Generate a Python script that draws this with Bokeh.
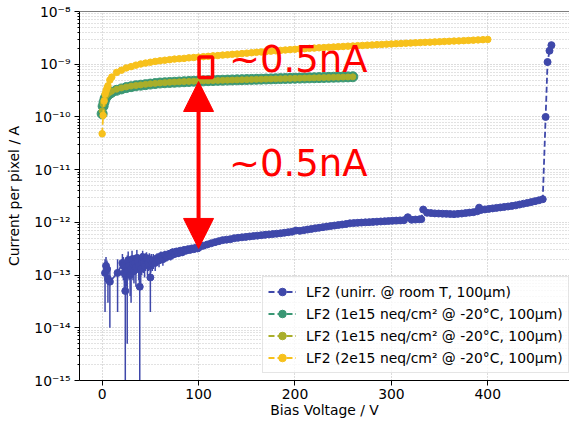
from bokeh.plotting import figure
from bokeh.models import (Range1d, FixedTicker, CustomJSTickFormatter, Legend, LegendItem,
                          Label, Arrow, NormalHead, Span, BoxAnnotation, ColumnDataSource)
from bokeh.embed import file_html
from bokeh.resources import INLINE

# ---------------- data ----------------
x_ticks = [0, 100, 200, 300, 400]
y_exponents = [-15, -14, -13, -12, -11, -10, -9, -8]

series_labels = [
    "LF2 (unirr. @ room T, 100\u03bcm)",
    "LF2 (1e15 neq/cm\u00b2 @ -20\u00b0C, 100\u03bcm)",
    "LF2 (1e15 neq/cm\u00b2 @ -20\u00b0C, 100\u03bcm)",
    "LF2 (2e15 neq/cm\u00b2 @ -20\u00b0C, 100\u03bcm)",
]

# unirradiated, room T  (bias V, current pA, error pA)
blue_v = [3, 4, 5, 6, 8, 16, 21, 22, 23, 24, 25, 26, 27, 28, 29, 30, 31, 32, 33, 34, 35, 36, 37, 38, 39,
          40, 41, 42, 43, 44, 45, 46, 47, 48, 49, 50, 51, 52,
          53, 55, 57, 59, 61, 63, 65, 67, 69, 71, 73, 75, 77, 79, 81, 83, 85, 87, 89, 91, 93, 95, 97, 99,
          101, 105, 109, 113, 117, 121, 125, 129, 133, 137,
          141, 145, 149, 153, 157, 161, 165, 169, 173, 177,
          181, 185, 189, 193, 197, 201, 205, 209, 213, 217,
          221, 225, 229, 233, 237, 241, 245, 249, 253, 257,
          261, 265, 269, 273, 277, 281, 285, 289, 293, 297,
          301, 305, 309, 313, 317, 321, 325, 329, 331, 333,
          337, 341, 345, 349, 353, 357, 361, 365, 369, 373,
          377, 381, 385, 389, 391, 393, 397, 401, 405, 409,
          413, 417, 421, 425, 429, 433, 437, 441, 445, 449,
          453, 457, 460, 462, 464, 466]
blue_i_pA = [0.11, 0.15, 0.13, 0.085, 0.075, 0.11, 0.17, 0.15, 0.11, 0.05, 0.14, 0.12, 0.19, 0.15, 0.10,
             0.13, 0.20, 0.16, 0.12, 0.17, 0.14, 0.21, 0.18, 0.15, 0.06, 0.13, 0.18, 0.22, 0.17, 0.15,
             0.19, 0.21, 0.16, 0.17, 0.20, 0.09, 0.19, 0.17,
             0.19, 0.17, 0.21, 0.19, 0.23, 0.20, 0.24, 0.22, 0.25, 0.23, 0.27, 0.25, 0.28, 0.26, 0.29,
             0.27, 0.30, 0.29, 0.31, 0.30, 0.32, 0.31, 0.33, 0.32,
             0.34, 0.36, 0.38, 0.40, 0.42, 0.44, 0.46, 0.47, 0.48, 0.50,
             0.51, 0.52, 0.53, 0.54, 0.55, 0.56, 0.57, 0.58, 0.59, 0.60,
             0.61, 0.62, 0.635, 0.65, 0.665, 0.70, 0.69, 0.71, 0.73, 0.75,
             0.77, 0.79, 0.81, 0.83, 0.85, 0.87, 0.89, 0.91, 0.93, 0.96,
             0.97, 0.98, 0.99, 1.00, 1.01, 1.02, 1.03, 1.04, 1.05, 1.06,
             1.07, 1.08, 1.09, 1.10, 1.25, 1.12, 1.13, 1.14, 1.15, 1.75,
             1.52, 1.50, 1.48, 1.47, 1.46, 1.45, 1.44, 1.43, 1.45, 1.47,
             1.50, 1.53, 1.56, 1.62, 1.90, 1.72, 1.76, 1.80, 1.84, 1.88,
             1.92, 1.96, 2.00, 2.05, 2.10, 2.18, 2.26, 2.34, 2.42, 2.52,
             2.62, 2.75, 100.0, 1100.0, 1800.0, 2300.0]
blue_err_pA = [0.09, 0.07, 0.06, 0.055, 0.065, 0.09, 0.08, 0.07, 0.06, 0.07, 0.08, 0.115, 0.09, 0.07,
               0.06, 0.10, 0.09, 0.08, 0.05, 0.07, 0.08, 0.09, 0.07, 0.07, 0.07, 0.06, 0.08, 0.07, 0.06,
               0.06, 0.07, 0.06, 0.06, 0.05, 0.06, 0.07, 0.06, 0.05,
               0.06, 0.05, 0.05, 0.05, 0.05, 0.05, 0.05, 0.04, 0.05, 0.04, 0.05, 0.04, 0.04, 0.04, 0.04,
               0.04, 0.04, 0.03, 0.04, 0.03, 0.03, 0.03, 0.03, 0.03,
               0.03, 0.03, 0.03, 0.03, 0.03, 0.03, 0.03, 0.03, 0.03, 0.03,
               0.03, 0.03, 0.03, 0.03, 0.03, 0.03, 0.03, 0.03, 0.03, 0.03,
               0.03, 0.03, 0.03, 0.03, 0.03, 0.04, 0.03, 0.03, 0.03, 0.03,
               0.03, 0.03, 0.03, 0.03, 0.03, 0.03, 0.03, 0.03, 0.03, 0.04,
               0.03, 0.03, 0.03, 0.03, 0.03, 0.03, 0.03, 0.03, 0.03, 0.03,
               0.03, 0.03, 0.03, 0.03, 0.05, 0.03, 0.03, 0.03, 0.03, 0.06,
               0.04, 0.04, 0.04, 0.04, 0.04, 0.04, 0.04, 0.04, 0.04, 0.04,
               0.04, 0.04, 0.04, 0.04, 0.06, 0.04, 0.04, 0.04, 0.04, 0.04,
               0.04, 0.04, 0.04, 0.04, 0.04, 0.04, 0.04, 0.04, 0.04, 0.04,
               0.04, 0.04, 1.0, 10.0, 10.0, 10.0]

# 1e15 neq/cm2 irradiated, -20C (bias V, current nA)
irr_v = [0, 1, 2, 3, 4, 5, 6, 8, 10, 15, 20, 25, 30, 35, 40, 45, 50, 55, 60, 65, 70, 75, 80, 85, 90, 95,
         100, 105, 110, 115, 120, 125, 130, 135, 140, 145, 150, 155, 160, 165, 170, 175, 180, 185, 190,
         195, 200, 205, 210, 215, 220, 225, 230, 235, 240, 245, 250, 255, 260]
green_i_nA = [0.115, 0.16, 0.19, 0.22, 0.24, 0.255, 0.265, 0.28, 0.295,
              0.32, 0.34, 0.36, 0.375, 0.39, 0.40, 0.41, 0.42, 0.43, 0.44, 0.445, 0.45, 0.455, 0.46,
              0.465, 0.47, 0.475, 0.48,
              0.483, 0.487, 0.49, 0.494, 0.497, 0.50, 0.503, 0.506, 0.509, 0.512, 0.515, 0.518, 0.521,
              0.524, 0.527, 0.53, 0.533, 0.536, 0.539, 0.542, 0.545, 0.548, 0.551, 0.554, 0.557, 0.56,
              0.563, 0.566, 0.569, 0.572, 0.575, 0.578]
olive_i_nA = [0.13, 0.175, 0.205, 0.235, 0.255, 0.27, 0.28, 0.295, 0.31,
              0.335, 0.355, 0.37, 0.385, 0.395, 0.405, 0.415, 0.425, 0.433, 0.44, 0.447, 0.453, 0.458,
              0.463, 0.468, 0.472, 0.476, 0.48,
              0.483, 0.486, 0.489, 0.492, 0.495, 0.498, 0.501, 0.504, 0.507, 0.51, 0.513, 0.516, 0.519,
              0.522, 0.525, 0.528, 0.531, 0.534, 0.537, 0.54, 0.543, 0.546, 0.549, 0.552, 0.555, 0.558,
              0.561, 0.564, 0.567, 0.57, 0.573, 0.576]

# 2e15 neq/cm2 irradiated, -20C (bias V, current nA)
yel_v = [0, 1, 2, 3, 4, 5, 6, 8, 10, 15, 20, 25, 30, 35, 40, 45, 50, 55, 60, 65, 70, 75, 80, 85, 90, 95,
         100, 105, 110, 115, 120, 125, 130, 135, 140, 145, 150, 155, 160, 165, 170, 175, 180, 185, 190,
         195, 200, 205, 210, 215, 220, 225, 230, 235, 240, 245, 250, 255, 260, 265, 270, 275, 280, 285,
         290, 295, 300, 305, 310, 315, 320, 325, 330, 335, 340, 345, 350, 355, 360, 365, 370, 375, 380,
         385, 390, 395, 400]
yel_i_nA = [0.048, 0.107, 0.2, 0.27, 0.31, 0.35, 0.39, 0.5, 0.57,
            0.7, 0.77, 0.85, 0.9, 0.96, 1.01, 1.05, 1.09, 1.13, 1.16, 1.19, 1.22, 1.25, 1.27, 1.29, 1.32,
            1.34, 1.36,
            1.39, 1.41, 1.44, 1.46, 1.49, 1.51, 1.54, 1.56, 1.59, 1.62, 1.65, 1.68, 1.71, 1.74, 1.77, 1.80,
            1.83, 1.86, 1.89, 1.92,
            1.95, 1.97, 2.00, 2.02, 2.05, 2.07, 2.10, 2.12, 2.15, 2.17, 2.20, 2.22, 2.25, 2.27, 2.30, 2.32,
            2.35, 2.37, 2.40, 2.42,
            2.45, 2.47, 2.50, 2.52, 2.55, 2.57, 2.60, 2.62, 2.65, 2.67, 2.70, 2.72, 2.75, 2.77, 2.80, 2.83,
            2.86, 2.89, 2.92, 2.95]

# annotation anchors (V, A)
ann_arrow_x = 100
ann_arrow_top = 4.7e-10
ann_arrow_bottom = 3.2e-13
ann_box = dict(left=100.5, right=114.5, top=1.37e-9, bottom=5.6e-10)
ann_text = "~0.5nA"
ann_text_x = 131.5
ann_text_y_upper = 6.58e-10
ann_text_y_lower = 7.18e-12

BLUE = "#3f48aa"
GREEN = "#3a9774"
OLIVE = "#a9ae2a"
YELLOW = "#f7c11c"
RED = "#ff0000"
FONT = "DejaVu Sans"
FS = "13.9px"

X_START, X_END = -23.5, 484.75
Y_START, Y_END = 1e-15, 1e-8

# ---------------- figure ----------------
p = figure(width=569, height=421, y_axis_type="log",
           x_range=Range1d(X_START, X_END), y_range=Range1d(Y_START, Y_END),
           output_backend="svg", toolbar_location=None,
           min_border_left=79, min_border_right=0, min_border_top=11, min_border_bottom=41)
p.outline_line_color = None
p.background_fill_color = "white"
p.border_fill_color = "white"

# axes
y_decades = [10.0 ** e for e in y_exponents]
p.xaxis.ticker = FixedTicker(ticks=x_ticks)
y_minor = [m * d for d in y_decades[:-1] for m in (2, 3, 4, 5, 6, 7, 8, 9)]
yticker = FixedTicker(ticks=y_decades, minor_ticks=y_minor)
p.yaxis.ticker = yticker
p.yaxis.formatter = CustomJSTickFormatter(code="""
const e = Math.round(Math.log10(tick));
const sup = {"-":"\u207b","0":"\u2070","1":"\u00b9","2":"\u00b2","3":"\u00b3","4":"\u2074",
             "5":"\u2075","6":"\u2076","7":"\u2077","8":"\u2078","9":"\u2079"};
return "10" + String(e).split("").map(c => sup[c]).join("");
""")
for ax in (p.xaxis, p.yaxis):
    ax.axis_line_color = "black"
    ax.axis_line_width = 1
    ax.major_tick_line_color = "black"
    ax.major_tick_in = 0
    ax.major_tick_out = 5
    ax.minor_tick_in = 0
    ax.minor_tick_out = 2
    ax.minor_tick_line_color = "black"
    ax.major_label_text_font = FONT
    ax.major_label_text_font_size = FS
    ax.major_label_text_color = "black"
    ax.axis_label_text_font = FONT
    ax.axis_label_text_font_size = FS
    ax.axis_label_text_font_style = "normal"
    ax.axis_label_text_color = "black"
p.xaxis.minor_tick_line_color = None
p.xaxis.major_label_standoff = 3
p.xaxis.axis_label = "Bias Voltage / V"
p.xaxis.axis_label_standoff = 0
p.yaxis.major_label_standoff = 4
p.yaxis.axis_label = "Current per pixel / A"
p.yaxis.axis_label_standoff = 9

# grid
p.xgrid.grid_line_color = "#b8b8b8"
p.xgrid.grid_line_dash = "1 2"
p.ygrid.ticker = yticker
p.ygrid.grid_line_color = "#b8b8b8"
p.ygrid.grid_line_dash = "1 2"
p.ygrid.minor_grid_line_color = "#c4c4c4"
p.ygrid.minor_grid_line_dash = "1 2"

# top spine
p.add_layout(Span(location=Y_END, dimension="width", line_color="black", line_width=1))

# ---------------- series ----------------
blue_i = [v * 1e-12 for v in blue_i_pA]
blue_lo = [max((a - b) * 1e-12, 1e-18) for a, b in zip(blue_i_pA, blue_err_pA)]
blue_hi = [(a + b) * 1e-12 for a, b in zip(blue_i_pA, blue_err_pA)]
bsrc = ColumnDataSource(dict(v=blue_v, i=blue_i, lo=blue_lo, hi=blue_hi))

legend_items = []

p.segment(x0="v", y0="lo", x1="v", y1="hi", source=bsrc, line_color=BLUE, line_width=1.5)
bl = p.line("v", "i", source=bsrc, line_color=BLUE, line_width=1.8, line_dash="6 3")
bs = p.scatter("v", "i", source=bsrc, size=7, fill_color=BLUE, line_color=BLUE)
legend_items.append(LegendItem(label=series_labels[0], renderers=[bl, bs]))

for vals, xs, col, msize, lab in ((green_i_nA, irr_v, GREEN, 10, series_labels[1]),
                                  (olive_i_nA, irr_v, OLIVE, 6, series_labels[2]),
                                  (yel_i_nA, yel_v, YELLOW, 6.5, series_labels[3])):
    ys = [v * 1e-9 for v in vals]
    src = ColumnDataSource(dict(v=xs, i=ys))
    ln = p.line("v", "i", source=src, line_color=col, line_width=1.8, line_dash="6 3")
    sc = p.scatter("v", "i", source=src, size=msize, fill_color=col, line_color=col)
    legend_items.append(LegendItem(label=lab, renderers=[ln, sc]))

legend = Legend(items=legend_items, location=(183, 7),
                label_text_font=FONT, label_text_font_size=FS, label_text_color="black",
                glyph_width=28, glyph_height=19, label_height=19, label_standoff=10,
                spacing=3, padding=5, margin=0,
                border_line_color="#cccccc", border_line_width=1,
                background_fill_color="white", background_fill_alpha=0.8)
p.add_layout(legend)

# ---------------- annotations ----------------
p.add_layout(BoxAnnotation(fill_alpha=0, line_color=RED, line_alpha=1.0, line_width=3.5, **ann_box))
p.add_layout(Arrow(x_start=ann_arrow_x, y_start=ann_arrow_bottom, x_end=ann_arrow_x, y_end=ann_arrow_top,
                   line_color=RED, line_width=4,
                   start=NormalHead(size=30, fill_color=RED, line_color=RED, line_width=1),
                   end=NormalHead(size=30, fill_color=RED, line_color=RED, line_width=1)))
for ty in (ann_text_y_upper, ann_text_y_lower):
    p.add_layout(Label(x=ann_text_x, y=ty, y_offset=14, text=ann_text, text_color=RED,
                       text_font=FONT, text_font_size="37px",
                       text_baseline="alphabetic", text_align="left"))

open("out.html", "w").write(file_html(p, INLINE))
